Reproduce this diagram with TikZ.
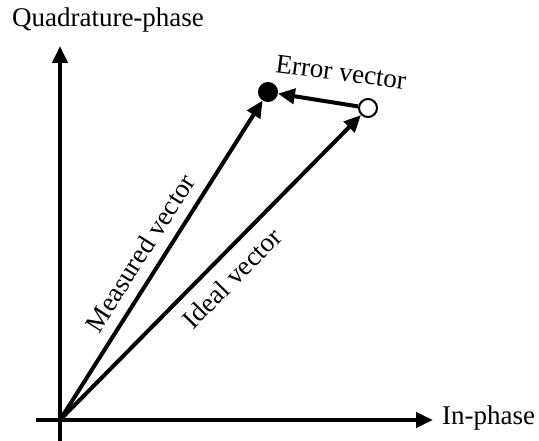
\documentclass[tikz,border=0pt]{standalone}
\usepackage{fontspec}
\setmainfont{Liberation Serif}
\usetikzlibrary{arrows.meta}
\begin{document}
\begin{tikzpicture}[x=1pt,y=-1pt,
  vec/.style={line width=4pt,-{Triangle[length=17pt,width=15pt]}},
  lbl/.style={font=\fontsize{27}{32}\selectfont,inner sep=0pt},
  dot/.style={circle,draw=black,line width=2pt,minimum size=18pt,inner sep=0pt}]
\useasboundingbox (0,0) rectangle (539,441);
\coordinate (O) at (60,420);
\coordinate (Yt) at (60,46);
\coordinate (Yb) at (60,441);
\coordinate (Xl) at (36,420);
\coordinate (Xr) at (433,420);
\node[dot,fill=black] (M) at (268,92) {};
\node[dot,fill=white] (I) at (368,108) {};
\draw[line width=4pt] (O) -- (Yb);
\draw[vec] (O) -- (Yt);
\draw[line width=4pt] (Xl) -- (O);
\draw[vec] (O) -- (Xr);
\draw[vec] (O) -- (M);
\draw[vec] (O) -- (I);
\draw[vec] (I) -- (M);
\node[lbl] (q) at (108,20) {Quadrature-phase};
\node[lbl,anchor=west] (ip) at (442,418) {In-phase};
\node[lbl,rotate=-7.5] (ev) at (341,72) {Error vector};
\node[lbl,rotate=57.6] (mv) at (140,253) {Measured vector};
\node[lbl,rotate=45.4] (iv) at (232,278) {Ideal vector};
\end{tikzpicture}
\end{document}
